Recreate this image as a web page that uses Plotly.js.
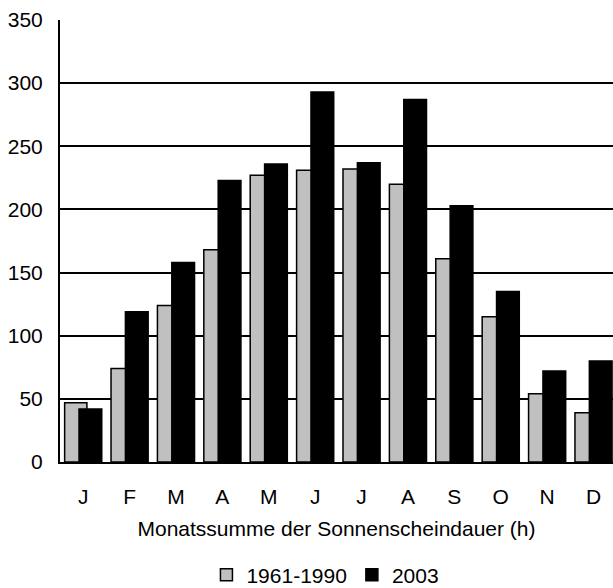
<!DOCTYPE html>
<html>
<head>
<meta charset="utf-8">
<script src="https://cdn.plot.ly/plotly-3.0.1.min.js"></script>
<style>
  html, body { margin: 0; padding: 0; background: #fff; overflow: hidden; }
  #chart { width: 613px; height: 588px; }
</style>
</head>
<body>
<div id="chart"></div>
<script>
const months = ["J", "F", "M", "A", "M", "J", "J", "A", "S", "O", "N", "D"];
const monthIndex = [0, 1, 2, 3, 4, 5, 6, 7, 8, 9, 10, 11];
const normal1961_1990 = [47, 74, 124, 168, 227, 231, 232, 220, 161, 115, 54, 39];
const year2003 = [42, 119, 158, 223, 236, 293, 237, 287, 203, 135, 72, 80];
const seriesNames = ["1961-1990", "2003"];

const font = { family: "Liberation Sans, Arial, sans-serif", color: "#000" };
const fs = 21;

const traces = [
  {
    type: "bar",
    name: seriesNames[0],
    x: monthIndex,
    y: normal1961_1990,
    width: 0.48,
    offset: -0.4,
    marker: { color: "#c0c0c0", line: { color: "#000", width: 1.5 } },
    hoverinfo: "y"
  },
  {
    type: "bar",
    name: seriesNames[1],
    x: monthIndex,
    y: year2003,
    width: 0.49,
    offset: -0.09,
    marker: { color: "#000", line: { color: "#000", width: 1.5 } },
    hoverinfo: "y"
  }
];

const layout = {
  width: 613,
  height: 588,
  margin: { l: 60, r: 0, t: 20, b: 126, autoexpand: false },
  paper_bgcolor: "#fff",
  plot_bgcolor: "#fff",
  barmode: "overlay",
  font: Object.assign({ size: fs }, font),
  showlegend: true,
  legend: {
    orientation: "h",
    x: 0.48,
    xanchor: "center",
    y: -0.256,
    yanchor: "middle",
    font: Object.assign({ size: fs }, font),
    itemwidth: 30,
    traceorder: "normal"
  },
  xaxis: {
    range: [-0.5, 11.42],
    tickmode: "array",
    tickvals: monthIndex,
    ticktext: months,
    ticks: "",
    ticklabelstandoff: 15,
    showgrid: false,
    zeroline: false,
    showline: true,
    linecolor: "#000",
    linewidth: 2,
    automargin: false,
    tickfont: Object.assign({ size: fs }, font),
    title: {
      text: "Monatssumme der Sonnenscheindauer (h)",
      font: Object.assign({ size: fs }, font),
      standoff: 14
    },
    fixedrange: true
  },
  yaxis: {
    range: [0, 350],
    dtick: 50,
    tick0: 0,
    ticks: "",
    ticklabelstandoff: 11,
    showgrid: true,
    gridcolor: "#000",
    gridwidth: 2,
    zeroline: false,
    showline: true,
    linecolor: "#000",
    linewidth: 2,
    automargin: false,
    tickfont: Object.assign({ size: fs }, font),
    fixedrange: true
  }
};

Plotly.newPlot("chart", traces, layout, { displayModeBar: false, staticPlot: true });
</script>
</body>
</html>
